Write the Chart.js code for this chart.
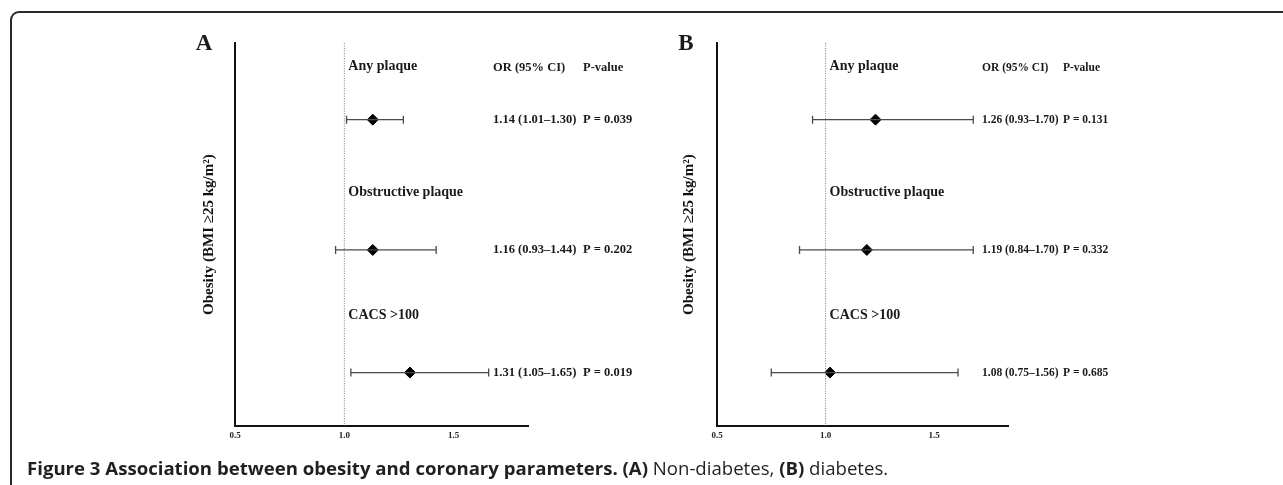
<!DOCTYPE html>
<html>
<head>
<meta charset="utf-8">
<script src="https://cdn.jsdelivr.net/npm/chart.js@4"></script>
<style>
body { margin: 0; background: #fff; width: 1283px; height: 485px; overflow: hidden; position: relative; }
canvas { position: absolute; left: 0; top: 0; }
#marco { position: absolute; left: 10px; top: 11px; width: 1320px; height: 520px; border: 2px solid #2b2b2b; border-top-left-radius: 9px; box-sizing: border-box; }
#pie { position: absolute; left: 27px; top: 457px; font-family: "Open Sans", sans-serif; font-size: 18.6px; line-height: 22px; color: #231f20; white-space: nowrap; }
</style>
</head>
<body>
<div id="marco"></div>
<canvas id="chartA" width="1283" height="485"></canvas>
<canvas id="chartB" width="1283" height="485"></canvas>
<div id="pie"><b>Figure 3 Association between obesity and coronary parameters.</b> <b>(A)</b> Non-diabetes, <b>(B)</b> diabetes.</div>
<script>
// datos
const resultados = ['Any plaque', 'Obstructive plaque', 'CACS >100'];
const xTicks = [0.5, 1.0, 1.5];

// A: no diabeticos
const orA = [1.13, 1.13, 1.30];
const bajoA = [1.01, 0.96, 1.03];
const altoA = [1.27, 1.42, 1.66];
const icA = ['1.14 (1.01\u20131.30)', '1.16 (0.93\u20131.44)', '1.31 (1.05\u20131.65)'];
const pA = ['P = 0.039', 'P = 0.202', 'P = 0.019'];

// B: diabeticos
const orB = [1.23, 1.19, 1.02];
const bajoB = [0.94, 0.88, 0.75];
const altoB = [1.68, 1.68, 1.61];
const icB = ['1.26 (0.93\u20131.70)', '1.19 (0.84\u20131.70)', '1.08 (0.75\u20131.56)'];
const pB = ['P = 0.131', 'P = 0.332', 'P = 0.685'];

// posiciones de filas en el eje y (0 arriba, 10 abajo)
const filaY = [2.0, 5.4, 8.6];
const etiquetaY = [0.6, 3.9, 7.1];
const cabeceraY = 0.65;
const yMax = 10;
const xMin = 0.5, xMax = 1.84;

const paneles = {
    A: { ic: icA, p: pA },
    B: { ic: icB, p: pB }
};

const serif = '"Liberation Serif", "Times New Roman", serif';

const textoForest = {
    id: 'textoForest',
    afterDatasetsDraw(chart, args, opts) {
        const { ctx, chartArea, scales: { x, y } } = chart;
        const panel = paneles[opts.letra];
        ctx.save();
        ctx.fillStyle = '#1a1a1a';
        ctx.textBaseline = 'middle';

        ctx.font = 'bold 23px ' + serif;
        ctx.textAlign = 'center';
        ctx.fillText(opts.letra, chartArea.left - 31, chartArea.top + 1);

        ctx.textAlign = 'left';
        ctx.font = 'bold 14px ' + serif;
        resultados.forEach((t, i) => {
            ctx.fillText(t, x.getPixelForValue(1.0) + 4, y.getPixelForValue(etiquetaY[i]));
        });

        ctx.font = 'bold ' + opts.tam + 'px ' + serif;
        const colOR = chartArea.right + opts.dxOR;
        const colP = chartArea.right + opts.dxP;
        ctx.fillText('OR (95% CI)', colOR, y.getPixelForValue(cabeceraY));
        ctx.fillText('P-value', colP, y.getPixelForValue(cabeceraY));
        panel.ic.forEach((t, i) => {
            ctx.fillText(t, colOR, y.getPixelForValue(filaY[i]));
            ctx.fillText(panel.p[i], colP, y.getPixelForValue(filaY[i]));
        });
        ctx.restore();
    }
};

function crearForest(id, or, bajo, alto, letra, cfg) {
    const datasets = [];
    // linea de referencia OR = 1
    datasets.push({
        data: [{ x: 1, y: 0 }, { x: 1, y: yMax }],
        showLine: true,
        borderColor: '#8a8a8a',
        borderWidth: 1,
        borderDash: [1.2, 1.3],
        pointRadius: 0
    });
    // intervalos de confianza
    or.forEach((v, i) => {
        datasets.push({
            data: [{ x: bajo[i], y: filaY[i] }, { x: alto[i], y: filaY[i] }],
            showLine: true,
            borderColor: '#4a4a4a',
            borderWidth: 1.3,
            pointStyle: 'line',
            pointRadius: 4,
            pointRotation: 90,
            pointBorderColor: '#4a4a4a',
            pointBorderWidth: 1.3
        });
    });
    // OR puntual
    datasets.push({
        data: or.map((v, i) => ({ x: v, y: filaY[i] })),
        showLine: false,
        pointStyle: 'rectRot',
        pointRadius: 5.5,
        pointBackgroundColor: '#000',
        pointBorderColor: '#000',
        pointBorderWidth: 1
    });

    new Chart(document.getElementById(id), {
        type: 'scatter',
        data: { datasets: datasets },
        plugins: [textoForest],
        options: {
            responsive: false,
            animation: false,
            layout: { padding: cfg.padding },
            plugins: {
                legend: { display: false },
                tooltip: { enabled: false },
                textoForest: { letra: letra, tam: cfg.tam, dxOR: cfg.dxOR, dxP: cfg.dxP }
            },
            scales: {
                x: {
                    type: 'linear',
                    min: xMin,
                    max: xMax,
                    afterBuildTicks: axis => { axis.ticks = xTicks.map(v => ({ value: v })); },
                    grid: { display: false, drawTicks: false },
                    border: { display: true, color: '#111', width: 2 },
                    ticks: {
                        padding: 4,
                        color: '#222',
                        font: { family: serif, size: 9, weight: 'bold' },
                        callback: v => Number(v).toFixed(1)
                    }
                },
                y: {
                    type: 'linear',
                    reverse: true,
                    min: 0,
                    max: yMax,
                    grid: { display: false, drawTicks: false },
                    border: { display: true, color: '#111', width: 2 },
                    ticks: { display: false },
                    title: {
                        display: true,
                        text: 'Obesity (BMI \u226525 kg/m\u00b2)',
                        color: '#111',
                        font: { family: serif, size: 15, weight: 'bold' },
                        padding: { top: 0, bottom: cfg.tituloPad }
                    }
                }
            }
        }
    });
}

document.addEventListener('DOMContentLoaded', () => {
    crearForest('chartA', orA, bajoA, altoA, 'A', {
        padding: { left: 200, right: 755, top: 43, bottom: 40 },
        tituloPad: 17, tam: 12.5, dxOR: -35, dxP: 55
    });
    crearForest('chartB', orB, bajoB, altoB, 'B', {
        padding: { left: 680, right: 275, top: 43, bottom: 40 },
        tituloPad: 19, tam: 11.5, dxOR: -26, dxP: 55
    });
});
</script>
</body>
</html>
